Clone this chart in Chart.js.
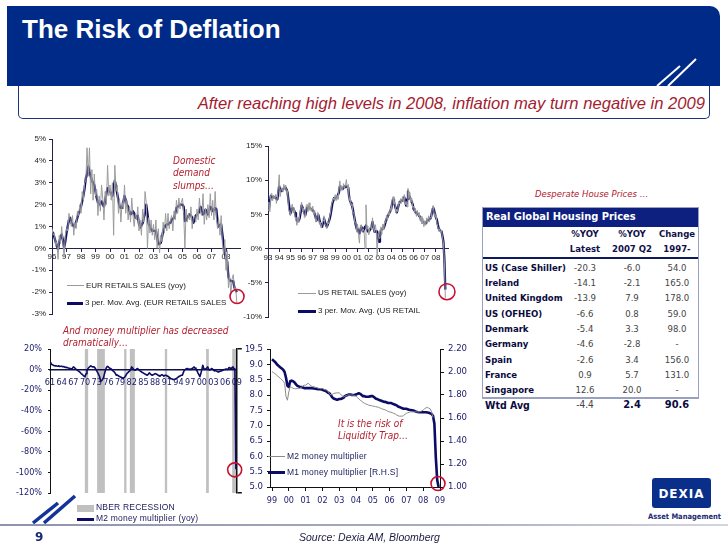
<!DOCTYPE html>
<html><head><meta charset="utf-8">
<script src="https://cdn.jsdelivr.net/npm/chart.js@4.4.1/dist/chart.umd.min.js"></script>
<style>
html,body{margin:0;padding:0;background:#fff;}
body{width:728px;height:546px;position:relative;overflow:hidden;font-family:"Liberation Sans",Arial,sans-serif;}
.a{position:absolute;white-space:nowrap;line-height:1;}
canvas{position:absolute;}
.red{color:#b3202f;font-family:"DejaVu Sans Condensed","DejaVu Sans",sans-serif;font-style:italic;font-size:10px;}
.lg{font-family:"Liberation Sans Narrow","Liberation Sans",Arial;font-size:8px;color:#222;}
.lg2{font-family:"Liberation Sans Narrow","Liberation Sans",Arial;font-size:8.5px;color:#1a1a5a;letter-spacing:0.2px;}
.tb{font-family:"DejaVu Sans Condensed","DejaVu Sans",sans-serif;font-size:9.5px;}
</style></head>
<body>
<!-- header -->
<div class="a" style="left:7px;top:6px;width:713px;height:80px;background:#002a87;border-top-right-radius:10px;"></div>
<div class="a" style="left:18px;top:86px;width:690px;height:32px;border:1.5px solid #1d3380;border-top:none;border-radius:0 0 5px 5px;"></div>
<div class="a" style="left:22px;top:14px;color:#fff;font:bold 26px 'Liberation Sans',Arial,sans-serif;">The Risk of Deflation</div>
<div class="a" style="right:23px;top:94px;color:#a31c30;font:italic 16.6px 'Liberation Sans Narrow','Liberation Sans',Arial,sans-serif;">After reaching high levels in 2008, inflation may turn negative in 2009</div>
<svg class="a" style="left:0;top:0" width="728" height="546">
  <defs><linearGradient id="fl" x1="0" x2="1" y1="0" y2="0"><stop offset="0" stop-color="#8d93ad"/><stop offset="0.6" stop-color="#a8acbf"/><stop offset="1" stop-color="#d4d6de"/></linearGradient></defs>
  <line x1="657" y1="86" x2="680" y2="66" stroke="#fff" stroke-width="2"/>
  <line x1="668" y1="86" x2="696" y2="59" stroke="#fff" stroke-width="2"/>
  <line x1="33" y1="523" x2="58" y2="503" stroke="#13329a" stroke-width="3.5"/>
  <line x1="44" y1="523" x2="75" y2="496" stroke="#13329a" stroke-width="3.5"/>
  <rect x="0" y="524" width="728" height="2" fill="url(#fl)"/>
</svg>

<!-- charts -->
<canvas id="c1" width="250" height="195" style="left:0;top:130px"></canvas>
<canvas id="c2" width="232" height="200" style="left:230px;top:130px"></canvas>
<canvas id="c3" width="250" height="170" style="left:0;top:335px"></canvas>
<canvas id="c4" width="240" height="180" style="left:240px;top:335px"></canvas>

<!-- chart 1 extras -->
<div class="a red" style="left:173px;top:156px">Domestic</div>
<div class="a red" style="left:173px;top:168px">demand</div>
<div class="a red" style="left:173px;top:181px">slumps…</div>
<div class="a" style="left:67px;top:285px;width:17px;height:1px;background:#9a9a9a"></div>
<div class="a lg" style="left:86px;top:282px">EUR RETAILS SALES (yoy)</div>
<div class="a" style="left:67px;top:302px;width:16px;height:3px;background:#0c0c66"></div>
<div class="a lg" style="left:85px;top:299px">3 per. Mov. Avg. (EUR RETAILS SALES</div>
<!-- chart 2 extras -->
<div class="a" style="left:298px;top:293px;width:18px;height:1px;background:#9a9a9a"></div>
<div class="a lg" style="left:318px;top:289px">US RETAIL SALES (yoy)</div>
<div class="a" style="left:298px;top:310px;width:18px;height:3px;background:#0c0c66"></div>
<div class="a lg" style="left:318px;top:307px">3 per. Mov. Avg. (US RETAIL</div>
<!-- chart 3 extras -->
<div class="a red" style="left:63px;top:326px">And money multiplier has decreased</div>
<div class="a red" style="left:63px;top:338px">dramatically…</div>
<div class="a" style="left:77px;top:505px;width:17px;height:7px;background:#c0c0c0"></div>
<div class="a lg2" style="left:96px;top:503px">NBER RECESSION</div>
<div class="a" style="left:77px;top:518px;width:17px;height:2.5px;background:#0c0c66"></div>
<div class="a lg2" style="left:96px;top:514px">M2 money multiplier (yoy)</div>
<div class="a" style="left:245px;top:344px;font:9px 'DejaVu Sans Condensed','DejaVu Sans';color:#1a1a6a">1</div>
<!-- chart 4 extras -->
<div class="a red" style="left:338px;top:419px">It is the risk of</div>
<div class="a red" style="left:338px;top:431px">Liquidity Trap…</div>
<div class="a" style="left:268px;top:456px;width:17px;height:1px;background:#8a8a8a"></div>
<div class="a lg2" style="left:287px;top:452px">M2 money multiplier</div>
<div class="a" style="left:268px;top:471px;width:17px;height:3px;background:#0c0c66"></div>
<div class="a lg2" style="left:287px;top:468px">M1 money multiplier [R.H.S]</div>

<!-- table -->
<div class="a red" style="left:535px;top:189px;font-size:9.5px">Desperate House Prices …</div>
<div class="a" style="left:482px;top:207px;width:215px;height:190px;border:1px solid #9aa0c0;"></div>
<div class="a" style="left:483px;top:208px;width:215px;height:19px;background:#0d2080;"></div>
<div class="a tb" style="left:486px;top:211px;color:#fff;font-weight:bold;font-size:11px;">Real Global Housing Prices</div>
<div class="a" style="left:483px;top:257px;width:215px;height:2px;background:#0d1a60;"></div>
<div class="a" style="left:482px;top:397px;width:217px;height:1px;background:#9aa0c0;"></div>
<div id="tbl"></div>

<!-- footer -->
<div class="a" style="left:35px;top:530px;font:bold 12px 'DejaVu Sans',sans-serif;color:#1a2a70">9</div>
<div class="a" style="left:299px;top:531px;font:italic 10.5px 'Liberation Sans',Arial;color:#1a1a40">Source: Dexia AM, Bloomberg</div>
<div class="a" style="left:652px;top:478px;width:59px;height:30px;background:#0a2f8a;border-radius:3px;"></div>
<div class="a" style="left:652px;top:487px;width:59px;text-align:center;font:bold 12px 'DejaVu Sans',sans-serif;color:#fff;letter-spacing:1px">DEXIA</div>
<div class="a" style="left:648px;top:512px;width:68px;text-align:center;font:bold 7.5px 'DejaVu Sans Condensed','DejaVu Sans';color:#1a2a70">Asset Management</div>

<script>
// ---------------- DATA ----------------
// Chart 1: Euro area retail sales, % yoy, monthly from Jan 1996
const eurStart = 1996;
const eurYears = [1996,1997,1998,1999,2000,2001,2002,2003,2004,2005,2006,2007,2008];
const eurRetailYoY = [
 0.9,0.6,0.7,0.1,0.3,-0.5,0.6,0.2,1.0,0.3,-0.4,0.6,
 0.9,0.8,1.6,1.3,1.0,1.5,0.6,1.2,0.9,1.7,1.5,2.0,
 1.6,2.6,2.2,3.0,3.1,4.6,3.3,4.6,2.5,3.6,2.2,3.4,
 2.4,2.7,1.5,2.4,1.7,2.9,2.3,1.3,2.6,2.0,3.8,2.4,
 2.9,2.2,3.0,0.6,3.8,2.6,2.9,1.6,2.2,1.2,2.1,1.8,
 2.9,1.6,2.2,1.3,1.9,1.2,2.3,1.5,1.0,1.6,1.3,1.9,
 0.8,1.3,0.6,1.8,1.2,2.6,2.1,0.0,1.4,0.7,1.3,0.6,
 1.1,0.4,1.3,0.0,0.9,-0.2,0.6,0.3,1.2,0.7,1.6,0.8,
 1.6,0.9,1.3,1.5,0.8,1.7,1.3,2.2,1.6,2.3,1.8,2.1,
 2.3,1.6,0.0,1.8,1.2,1.6,1.3,1.9,0.9,1.4,1.5,1.2,
 1.8,1.3,2.3,1.6,1.5,2.5,1.1,1.8,1.3,2.0,1.4,2.5,
 1.5,2.2,1.3,2.6,1.4,0.9,1.3,0.6,1.5,0.2,-0.3,0.4,
 -1.0,-0.1,-1.8,-1.3,-2.1,-1.4,-1.2,-1.9,-1.8,-2.5];
const eurRetail3m = [
 0.76,0.7,0.5,0.3,0.1,-0.05,0.3,0.5,0.64,0.4,0.03,0.3,
 0.7,1.0,1.3,1.4,1.17,1.1,1.0,1.0,1.2,1.4,1.6,1.7,
 1.9,2.15,2.4,2.75,3.2,3.4,3.75,3.5,3.3,3.1,3.0,2.9,
 2.6,2.3,2.1,2.0,2.05,2.15,2.0,1.9,2.2,2.5,2.75,2.7,
 2.6,2.5,2.4,2.8,3.1,2.8,2.5,2.2,1.9,1.85,1.85,2.1,
 2.4,2.2,2.0,1.9,1.7,1.55,1.6,1.7,1.6,1.4,1.45,1.5,
 1.1,0.95,1.05,1.15,1.4,1.6,2.0,1.6,1.1,1.0,0.9,0.8,
 0.8,0.8,0.8,0.5,0.2,0.2,0.25,0.5,0.8,0.95,1.05,1.1,
 1.1,1.15,1.17,1.3,1.35,1.4,1.6,1.85,1.9,1.95,2.0,2.0,
 2.0,1.9,1.25,1.3,1.4,1.5,1.55,1.5,1.4,1.17,1.3,1.5,
 1.55,1.6,1.7,1.9,1.75,1.55,1.6,1.77,1.7,1.55,1.7,1.9,
 1.85,1.7,1.75,1.85,1.8,1.25,1.0,1.05,1.1,0.65,0.2,-0.2,
 -0.5,-0.6,-1.3,-1.45,-1.5,-1.5,-1.5,-1.8,-1.9,-2.0];

// Chart 2: US retail sales, % yoy, monthly from Jan 1993
const usStart = 1993;
const usYears = [1993,1994,1995,1996,1997,1998,1999,2000,2001,2002,2003,2004,2005,2006,2007,2008];
const usRetailYoY = [
 5.6,6.8,5.4,7.9,8.1,7.0,7.8,7.3,7.9,6.6,7.4,8.9,
 10.8,7.6,8.7,8.9,8.3,9.4,8.6,9.3,7.9,8.5,5.8,5.4,
 4.8,5.9,6.5,5.2,6.0,4.6,4.2,3.4,4.5,3.8,4.9,5.8,
 6.8,5.4,5.9,4.5,4.6,6.3,6.5,5.4,6.7,5.6,6.0,5.4,
 6.2,4.9,5.6,3.9,4.0,5.3,5.2,3.6,3.9,3.0,3.6,4.1,
 4.8,3.6,3.4,2.9,3.9,3.6,4.7,5.2,6.5,6.8,7.4,7.1,
 7.9,7.0,7.8,7.2,8.6,9.9,8.4,9.2,8.6,9.5,8.8,9.3,
 10.1,8.7,9.4,7.0,7.6,6.3,6.6,5.2,5.3,3.8,3.9,2.4,
 3.6,1.9,0.8,3.4,3.5,2.5,2.9,2.5,0.0,6.4,2.8,3.3,
 2.0,2.9,3.3,2.8,4.5,3.0,2.4,3.5,2.6,-1.2,2.2,1.5,
 2.3,3.2,2.1,3.6,2.7,3.9,3.8,4.9,4.1,5.3,4.9,5.9,
 5.4,7.1,7.6,6.5,6.8,5.2,5.8,5.4,6.9,6.5,7.3,6.6,
 7.6,6.8,7.9,6.4,6.9,6.1,8.8,7.3,8.2,6.8,7.4,6.0,
 6.2,5.3,5.9,4.7,5.6,4.8,5.3,4.1,4.7,3.6,4.4,3.2,
 4.1,3.4,4.5,3.7,4.8,3.9,4.6,4.5,5.9,6.3,5.2,4.6,
 5.1,3.7,3.2,2.5,2.9,2.3,2.7,1.5,0.9,-2.0,-7.2];
const usRetail3m = [
 6.2,5.9,6.8,7.7,7.6,7.5,7.5,7.5,7.4,7.3,7.2,8.2,
 9.1,8.7,8.4,8.5,8.7,8.8,8.9,8.9,8.6,8.2,7.0,5.9,
 5.1,5.6,6.0,5.8,5.6,5.2,4.6,4.1,4.0,4.1,4.5,5.3,
 6.3,6.0,5.6,5.2,4.9,5.5,6.0,6.1,6.0,6.0,5.8,5.7,
 5.6,5.4,5.1,4.6,4.1,4.6,4.9,4.3,3.7,3.5,3.2,3.8,
 4.4,3.9,3.5,3.2,3.5,3.9,4.3,4.9,5.7,6.6,7.0,7.4,
 7.4,7.4,7.5,7.5,8.2,9.1,9.0,8.8,8.7,8.9,9.1,9.0,
 9.1,9.0,8.9,7.5,7.0,6.6,6.3,5.7,4.9,4.2,3.5,2.9,
 2.9,2.5,2.2,2.7,3.2,2.9,2.5,2.9,3.2,3.4,2.9,2.5,
 2.5,2.7,2.9,3.3,3.9,3.2,2.5,2.5,2.5,2.5,1.5,1.0,
 1.8,2.7,2.8,2.9,3.0,3.4,3.9,4.3,4.6,4.9,5.2,5.5,
 5.8,6.6,7.2,6.8,6.3,5.8,5.3,5.8,6.4,6.8,6.9,7.0,
 7.0,7.3,7.5,7.0,6.3,7.2,8.4,7.8,7.5,7.2,6.8,6.5,
 5.8,5.6,5.3,5.2,5.1,5.0,4.8,4.6,4.3,4.0,3.9,3.8,
 3.7,3.7,3.9,4.1,4.2,4.3,4.4,4.8,5.5,6.0,5.6,4.9,
 4.9,4.2,3.5,2.9,2.7,2.6,2.5,1.8,1.0,-1.5,-6.0];

// Chart 3: M2 money multiplier, % yoy, quarterly from 1961 Q1
const m2yoyStart = 1961;
const m2yoyYears = [1961,1964,1967,1970,1973,1976,1979,1982,1985,1988,1991,1994,1997,2000,2003,2006,2009];
const m2MultiplierYoY = [
 6.5,5.5,4.9,4.5, 4.0,3.6,3.8,3.4, 3.3,3.6,3.0,3.2, 3.2,2.8,3.0,2.5,
 2.0,2.3,1.8,1.5, 1.2,1.0,0.5,1.2, 2.6,2.0,1.0,0.0, -0.5,-1.3,-2.0,-2.8,
 -3.9,-4.5,-5.5,-6.5, -7.0,-4.0,-1.0,1.0, 2.0,3.0,3.6,3.0, 2.6,2.8,2.0,0.5,
 -1.3,-3.0,-5.0,-7.0, -11.4,-11.0,-9.5,-8.0, -4.0,-0.6,2.0,3.2, 2.5,1.5,1.0,0.5,
 -0.5,-1.5,-2.3,-3.5, -5.5,-5.0,-6.0,-6.5, -7.0,-7.5,-8.0,-8.8, -8.0,-7.0,-5.5,-3.9,
 -3.0,-2.0,-1.3,0.5, 2.6,1.5,0.0,-0.6, -0.6,0.5,1.0,0.0, -1.0,-1.5,-2.3,-2.8,
 -3.5,-3.9,-4.5,-5.0, -5.5,-4.5,-3.2,-4.0, -5.0,-5.5,-5.0,-4.5, -3.9,-4.2,-4.8,-5.5,
 -6.0,-6.5,-5.5,-5.0, -5.5,-6.5,-5.5,-5.5, -6.0,-6.5,-7.0,-7.8, -8.8,-9.0,-9.5,-9.7,
 -9.7,-9.3,-8.5,-7.8, -7.0,-6.5,-6.0,-5.5, -5.5,-3.0,-0.6,0.0, 0.5,1.0,0.5,0.0,
 0.5,0.0,1.0,1.5, 2.6,1.5,0.0,-1.0, -3.2,-5.0,-7.0,-3.9, 0.0,4.2,1.0,0.0,
 0.5,1.5,2.6,0.5, -0.6,0.0,1.0,0.5, -0.5,-1.3,-1.0,-1.5, -2.0,-2.3,-2.0,-1.5,
 -1.3,-1.0,-0.5,0.0, 0.0,0.5,0.0,0.5, 2.0,1.5,1.0,2.0, 2.6,1.0,0.5,-97];
const recessionStart = [1969.95, 1973.1, 1980.05, 1981.5, 1990.5, 2001.1, 2007.8];
const recessionEnd   = [1970.8, 1975.1, 1980.65, 1982.8, 1991.1, 2001.8, 2008.8];

// Chart 4: money multipliers, monthly from Jan 1999
const multStart = 1999;
const multYears = [1999,2000,2001,2002,2003,2004,2005,2006,2007,2008,2009];
const m2Multiplier = [
 8.76,8.73,8.70,8.66,8.62,8.58,8.54,8.50,8.45,8.38,7.95,7.83,
 8.10,8.27,8.25,8.22,8.21,8.20,8.21,8.21,8.22,8.25,8.30,8.32,
 8.32,8.36,8.38,8.33,8.29,8.28,8.27,8.25,8.24,8.22,8.21,8.21,
 8.21,8.19,8.17,8.16,8.12,8.05,8.00,8.02,8.05,8.06,8.07,8.07,
 8.07,8.03,7.97,7.94,7.96,7.98,8.00,8.00,8.00,8.00,8.00,7.98,
 7.96,7.92,7.87,7.83,7.80,7.76,7.73,7.71,7.69,7.67,7.66,7.65,
 7.64,7.63,7.62,7.61,7.60,7.58,7.56,7.54,7.53,7.51,7.49,7.46,
 7.45,7.44,7.42,7.40,7.38,7.35,7.32,7.31,7.31,7.31,7.33,7.37,
 7.40,7.42,7.44,7.45,7.45,7.45,7.45,7.45,7.45,7.45,7.46,7.48,
 7.51,7.55,7.58,7.60,7.57,7.55,7.45,7.26];
const m1Multiplier = [
 2.11,2.10,2.09,2.075,2.06,2.05,2.04,2.03,2.02,2.00,1.95,1.88,
 1.87,1.92,1.925,1.92,1.91,1.895,1.88,1.875,1.87,1.87,1.865,1.86,
 1.86,1.86,1.86,1.86,1.86,1.858,1.857,1.855,1.853,1.85,1.85,1.85,
 1.845,1.84,1.838,1.83,1.82,1.815,1.80,1.78,1.77,1.765,1.76,1.76,
 1.765,1.765,1.77,1.775,1.79,1.795,1.80,1.805,1.805,1.80,1.80,1.80,
 1.805,1.81,1.815,1.81,1.80,1.79,1.79,1.785,1.785,1.785,1.788,1.79,
 1.79,1.78,1.77,1.765,1.76,1.755,1.75,1.745,1.74,1.74,1.735,1.73,
 1.73,1.73,1.725,1.72,1.715,1.71,1.70,1.695,1.69,1.685,1.68,1.68,
 1.68,1.675,1.672,1.67,1.668,1.665,1.66,1.655,1.652,1.65,1.65,1.65,
 1.65,1.65,1.65,1.648,1.645,1.64,1.635,1.62,1.55,1.26,1.06,1.0];

// Table: Real Global Housing Prices
const housingCountries = ["US (Case Shiller)","Ireland","United Kingdom","US (OFHEO)","Denmark","Germany","Spain","France","Singapore"];
const housingLatest  = ["-20.3","-14.1","-13.9","-6.6","-5.4","-4.6","-2.6","0.9","12.6"];
const housing2007Q2  = ["-6.0","-2.1","7.9","0.8","3.3","-2.8","3.4","5.7","20.0"];
const housingChange  = ["54.0","165.0","178.0","59.0","98.0","-","156.0","131.0","-"];
const housingWtdAvg  = ["-4.4","2.4","90.6"];

// ---------------- TABLE ----------------
(function(){
  const host = document.getElementById('tbl');
  const cols = [585, 632, 677];
  const add = (html, style) => { const d = document.createElement('div'); d.className='a tb'; d.style.cssText = style; d.textContent = html; host.appendChild(d); };
  const heads = [["%YOY","Latest"],["%YOY","2007 Q2"],["Change","1997-"]];
  heads.forEach((h,i)=>{
    add(h[0], `left:${cols[i]-30}px;width:60px;text-align:center;top:229px;font-weight:bold;color:#10104a;`);
    add(h[1], `left:${cols[i]-30}px;width:60px;text-align:center;top:244px;font-weight:bold;color:#10104a;`);
  });
  housingCountries.forEach((c,r)=>{
    const cy = 268 + r*15.35;
    add(c, `left:485px;top:${cy-5.5}px;font-weight:bold;color:#0a0a40;`);
    [housingLatest[r], housing2007Q2[r], housingChange[r]].forEach((v,i)=>{
      add(v, `left:${cols[i]-25}px;width:50px;text-align:center;top:${cy-5.5}px;color:#444;`);
    });
  });
  add("Wtd Avg", `left:485px;top:400px;font-weight:bold;color:#0a0a40;font-size:10.5px;`);
  housingWtdAvg.forEach((v,i)=>{
    add(v, `left:${cols[i]-25}px;width:50px;text-align:center;top:${i===0?400:399}px;color:${i===0?'#444':'#0a0a40'};font-weight:${i===0?'normal':'bold'};font-size:${i===0?10:11}px;`);
  });
})();

// ---------------- CHARTS ----------------
const toPts = (start, step, vals) => vals.map((v,i)=>({x: start + i*step, y: v}));
const yearTicks = arr => (s => { s.ticks = arr.map(v=>({value:v})); });
const twoDigit = v => String(Math.round(v)).slice(2);
const NAVY = '#0c0c66';

function circlePlugin(cx, cy, r, axis){
  return { id:'circ', afterDraw(chart){
    const ctx = chart.ctx, xs = chart.scales.x, ys = chart.scales[axis||'y'];
    ctx.save(); ctx.beginPath();
    ctx.arc(xs.getPixelForValue(cx), ys.getPixelForValue(cy), r, 0, Math.PI*2);
    ctx.strokeStyle = '#c8102e'; ctx.lineWidth = 1.6; ctx.stroke(); ctx.restore();
  }};
}
const base = {
  animation:false, responsive:false, devicePixelRatio:1,
  events:[],
  plugins:{legend:{display:false}, tooltip:{enabled:false}},
  elements:{point:{radius:0}, line:{tension:0, borderJoinStyle:'round'}}
};

// Chart 1
new Chart(document.getElementById('c1'), {
  type:'line',
  data:{datasets:[
    {data: toPts(eurStart, 1/12, eurRetailYoY), borderColor:'#9c9c9c', borderWidth:1},
    {data: toPts(eurStart, 1/12, eurRetail3m), borderColor:NAVY, borderWidth:2.3}
  ]},
  options:Object.assign({}, base, {
    layout:{padding:{top:9, bottom:11, left:0, right:9.5}},
    scales:{
      x:{type:'linear', position:{y:0}, min:1996, max:2009, afterBuildTicks: yearTicks(eurYears),
         ticks:{autoSkip:false, maxRotation:0, padding:1, font:{family:'Liberation Sans', size:8}, color:'#222', callback:twoDigit},
         grid:{drawOnChartArea:false, tickLength:3, color:'#22224a'}, border:{color:'#22224a'}},
      y:{type:'linear', min:-3, max:5,
         ticks:{stepSize:1, padding:3, font:{family:'Liberation Sans', size:8}, color:'#222', callback:v=>v+'%'},
         grid:{drawOnChartArea:false, tickLength:3, color:'#22224a'}, border:{color:'#22224a'},
         afterFit:s=>{s.width=52;}}
    }
  }),
  plugins:[circlePlugin(2008.76, -2.2, 7)]
});

// Chart 2
new Chart(document.getElementById('c2'), {
  type:'line',
  data:{datasets:[
    {data: toPts(usStart, 1/12, usRetailYoY), borderColor:'#9c9c9c', borderWidth:1},
    {data: toPts(usStart, 1/12, usRetail3m), borderColor:NAVY, borderWidth:2.3}
  ]},
  options:Object.assign({}, base, {
    layout:{padding:{top:16, bottom:13, left:0, right:13.7}},
    scales:{
      x:{type:'linear', position:{y:0}, min:1993, max:2009.1, afterBuildTicks: yearTicks(usYears),
         ticks:{autoSkip:false, maxRotation:0, padding:1, font:{family:'Liberation Sans', size:8}, color:'#222', callback:twoDigit},
         grid:{drawOnChartArea:false, tickLength:3, color:'#22224a'}, border:{color:'#22224a'}},
      y:{type:'linear', min:-10, max:15,
         ticks:{stepSize:5, padding:3, font:{family:'Liberation Sans', size:8}, color:'#222', callback:v=>v+'%'},
         grid:{drawOnChartArea:false, tickLength:3, color:'#22224a'}, border:{color:'#22224a'},
         afterFit:s=>{s.width=38;}}
    }
  }),
  plugins:[circlePlugin(2008.98, -6.3, 8)]
});

// Chart 3
const recessionPlugin = { id:'rec', beforeDraw(chart){
  const {ctx, chartArea:a, scales:{x}} = chart;
  ctx.save(); ctx.fillStyle = '#c0c0c0';
  recessionStart.forEach((s,i)=>{
    const x0 = x.getPixelForValue(s), x1 = x.getPixelForValue(recessionEnd[i]);
    ctx.fillRect(x0, a.top, x1-x0, a.bottom-a.top);
  });
  ctx.restore();
}};
const navyTick = {family:"DejaVu Sans Condensed", size:9};
new Chart(document.getElementById('c3'), {
  type:'line',
  data:{datasets:[
    {data: toPts(m2yoyStart, 1/4, m2MultiplierYoY), borderColor:NAVY, borderWidth:1.6}
  ]},
  options:Object.assign({}, base, {
    layout:{padding:{top:14, bottom:12, left:0, right:6.8}},
    scales:{
      x:{type:'linear', position:{y:0}, min:1961, max:2009, afterBuildTicks: yearTicks(m2yoyYears),
         ticks:{autoSkip:false, maxRotation:0, padding:8, font:navyTick, color:'#1a1a6a', callback:twoDigit},
         grid:{drawOnChartArea:false, drawTicks:false}, border:{color:'#10104a', width:1.5}},
      y:{type:'linear', min:-120, max:20,
         ticks:{stepSize:20, padding:6, font:navyTick, color:'#1a1a6a', callback:v=>v+'%'},
         grid:{drawOnChartArea:false, tickLength:2, color:'#111'}, border:{color:'#111'},
         afterFit:s=>{s.width=50;}},
      y2:{type:'linear', position:'right', min:-120, max:20, afterBuildTicks: s=>{s.ticks=[{value:-120},{value:20}];},
         ticks:{display:false}, grid:{drawOnChartArea:false, tickLength:5, color:'#111', lineWidth:1.5}, border:{color:'#111', width:1.5},
         afterFit:s=>{s.width=6;}}
    }
  }),
  plugins:[recessionPlugin, circlePlugin(2008.44, -97.5, 7)]
});

// Chart 4
new Chart(document.getElementById('c4'), {
  type:'line',
  data:{datasets:[
    {data: toPts(multStart, 1/12, m2Multiplier), borderColor:'#8a8a8a', borderWidth:1, yAxisID:'y'},
    {data: toPts(multStart, 1/12, m1Multiplier), borderColor:NAVY, borderWidth:2.6, yAxisID:'y2'}
  ]},
  options:Object.assign({}, base, {
    layout:{padding:{top:14, bottom:0, left:0, right:5}},
    scales:{
      x:{type:'linear', position:'bottom', min:1998.88, max:2009, afterBuildTicks: yearTicks(multYears),
         ticks:{autoSkip:false, maxRotation:0, padding:4, font:navyTick, color:'#1a1a6a', callback:twoDigit},
         grid:{drawOnChartArea:false, tickLength:4, color:'#111'}, border:{color:'#111'},
         afterFit:s=>{s.height=28;}},
      y:{type:'linear', position:'left', min:5, max:9.5,
         ticks:{stepSize:0.5, padding:4, font:{family:"DejaVu Sans Condensed", size:9.5}, color:'#1a1a6a', callback:v=>v.toFixed(1)},
         grid:{drawOnChartArea:false, tickLength:3, color:'#111'}, border:{color:'#111'},
         afterFit:s=>{s.width=30;}},
      y2:{type:'linear', position:'right', min:1.0, max:2.2,
         ticks:{stepSize:0.2, padding:4, font:{family:"DejaVu Sans Condensed", size:9.5}, color:'#1a1a6a', callback:v=>v.toFixed(2)},
         grid:{drawOnChartArea:false, tickLength:4, color:'#111'}, border:{color:'#111'},
         afterFit:s=>{s.width=35;}}
    }
  }),
  plugins:[circlePlugin(2008.88, 1.03, 7, 'y2')]
});
</script>
</body></html>
